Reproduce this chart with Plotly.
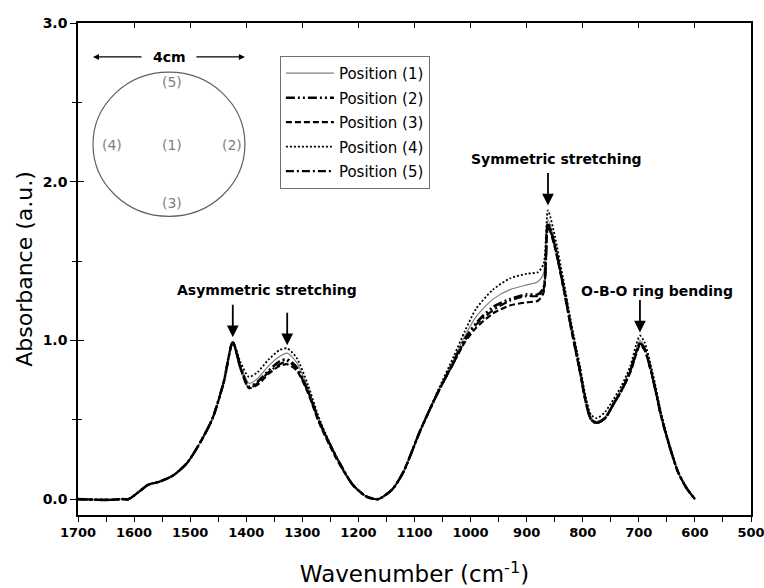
import plotly.graph_objects as go

wavenumber = [1700, 1650, 1620, 1610, 1590, 1575, 1555, 1530, 1505, 1480, 1460, 1440, 1424, 1410,
              1395, 1380, 1360, 1340, 1327, 1310, 1290, 1270, 1240, 1210, 1185, 1165, 1140, 1120,
              1090, 1060, 1030, 1010, 990, 960, 930, 900, 880, 870, 862, 850, 835, 820, 805, 795,
              785, 775, 760, 745, 730, 715, 705, 698, 690, 675, 660, 645, 630, 615, 600]

pos1 = [0.0, -0.005, 0.0, 0.0, 0.05, 0.09, 0.11, 0.15, 0.23, 0.37, 0.51, 0.74, 0.99, 0.84,
        0.73, 0.76, 0.84, 0.90, 0.92, 0.86, 0.70, 0.50, 0.27, 0.09, 0.015, 0.0, 0.06, 0.17,
        0.43, 0.66, 0.88, 1.03, 1.15, 1.26, 1.32, 1.35, 1.37, 1.42, 1.76, 1.62, 1.36, 1.08, 0.82, 0.63,
        0.51, 0.49, 0.52, 0.61, 0.70, 0.82, 0.94, 1.00, 0.96, 0.77, 0.53, 0.33, 0.17, 0.07, 0.0]
pos2 = [0.0, -0.005, 0.0, 0.0, 0.05, 0.09, 0.11, 0.15, 0.23, 0.37, 0.51, 0.74, 0.99, 0.83,
        0.71, 0.74, 0.81, 0.87, 0.88, 0.83, 0.68, 0.49, 0.27, 0.09, 0.015, 0.0, 0.06, 0.17,
        0.43, 0.66, 0.87, 1.01, 1.11, 1.21, 1.26, 1.29, 1.29, 1.33, 1.74, 1.60, 1.35, 1.07, 0.81, 0.62,
        0.50, 0.48, 0.51, 0.60, 0.69, 0.81, 0.92, 0.98, 0.95, 0.76, 0.52, 0.33, 0.17, 0.07, 0.0]
pos3 = [0.0, -0.005, 0.0, 0.0, 0.05, 0.09, 0.11, 0.15, 0.23, 0.37, 0.51, 0.74, 0.99, 0.82,
        0.70, 0.72, 0.79, 0.84, 0.85, 0.81, 0.67, 0.48, 0.26, 0.09, 0.015, 0.0, 0.06, 0.17,
        0.43, 0.66, 0.86, 0.99, 1.08, 1.17, 1.22, 1.24, 1.25, 1.30, 1.72, 1.59, 1.34, 1.06, 0.80, 0.62,
        0.50, 0.48, 0.51, 0.60, 0.69, 0.80, 0.91, 0.97, 0.94, 0.76, 0.52, 0.33, 0.17, 0.07, 0.0]
pos4 = [0.0, -0.005, 0.0, 0.0, 0.05, 0.09, 0.11, 0.15, 0.23, 0.37, 0.51, 0.74, 0.99, 0.86,
        0.77, 0.80, 0.88, 0.94, 0.95, 0.89, 0.72, 0.51, 0.27, 0.09, 0.015, 0.0, 0.06, 0.17,
        0.43, 0.67, 0.90, 1.06, 1.20, 1.32, 1.39, 1.42, 1.43, 1.48, 1.82, 1.66, 1.39, 1.10, 0.84, 0.65,
        0.53, 0.51, 0.55, 0.63, 0.72, 0.84, 0.97, 1.03, 0.99, 0.79, 0.54, 0.34, 0.17, 0.07, 0.0]
pos5 = [0.0, -0.005, 0.0, 0.0, 0.05, 0.09, 0.11, 0.15, 0.23, 0.37, 0.51, 0.74, 0.99, 0.82,
        0.70, 0.73, 0.80, 0.85, 0.87, 0.82, 0.68, 0.49, 0.27, 0.09, 0.015, 0.0, 0.06, 0.17,
        0.43, 0.66, 0.86, 1.00, 1.10, 1.19, 1.25, 1.28, 1.28, 1.32, 1.73, 1.60, 1.35, 1.07, 0.81, 0.62,
        0.50, 0.48, 0.51, 0.60, 0.69, 0.81, 0.92, 0.98, 0.95, 0.76, 0.52, 0.33, 0.17, 0.07, 0.0]

series_names = ["Position (1)", "Position (2)", "Position (3)", "Position (4)", "Position (5)"]
series_values = [pos1, pos2, pos3, pos4, pos5]
series_styles = [
    dict(color="#808080", width=1.2, dash="solid"),
    dict(color="black", width=2.6, dash="9px,3px,2px,3px,2px,3px"),
    dict(color="black", width=2.2, dash="6px,3px"),
    dict(color="black", width=1.8, dash="2px,2px"),
    dict(color="black", width=2.2, dash="8px,3px,2px,3px"),
]

peak_labels = ["Asymmetric stretching", "Symmetric stretching", "O-B-O ring bending"]
peak_label_x = [1363, 846, 668]
peak_label_y = [1.32, 2.14, 1.31]
arrow_x = [1424, 1327, 862, 698]
arrow_y = [1.02, 0.97, 1.85, 1.05]

circle_labels = ["(5)", "(4)", "(1)", "(2)", "(3)"]

fig = go.Figure()
for i, (name, vals, st) in enumerate(zip(series_names, series_values, series_styles)):
    fig.add_trace(go.Scatter(
        x=wavenumber, y=vals, mode="lines", name=name, legendgroup=f"g{i}",
        line=dict(color=st["color"], width=st["width"], dash=st["dash"], shape="spline", smoothing=0.7),
    ))

fig.update_layout(
    width=764, height=588,
    margin=dict(l=78, r=13, t=23, b=73),
    paper_bgcolor="white", plot_bgcolor="white",
    font=dict(family="DejaVu Sans", color="black"),
    showlegend=True,
    legend=dict(x=0.300, y=0.933, xanchor="left", yanchor="top",
                bordercolor="#707070", borderwidth=1, bgcolor="white",
                font=dict(family="DejaVu Sans", size=15, color="black"),
                itemwidth=48,
                tracegroupgap=2, traceorder="grouped"),
    xaxis=dict(range=[1700, 500], autorange=False, dtick=100, tick0=500, automargin=False,
               ticklabeloverflow="allow",
               ticks="outside", ticklen=5, tickwidth=1.2, tickcolor="black",
               minor=dict(dtick=50, ticks="outside", ticklen=5, tickwidth=1.2, tickcolor="black"),
               showline=True, linecolor="black", linewidth=1.5, mirror=True,
               showgrid=False, zeroline=False,
               tickfont=dict(family="DejaVu Sans", size=13, weight="bold"),
               title=dict(text="Wavenumber (cm<sup>-1</sup>)", font=dict(family="DejaVu Sans", size=23),
                          standoff=27)),
    yaxis=dict(range=[-0.1, 3.0], autorange=False, dtick=1.0, tick0=0, tickformat=".1f", automargin=False,
               ticks="outside", ticklen=6, tickwidth=1.2, tickcolor="black",
               minor=dict(dtick=0.5, ticks="outside", ticklen=4, tickwidth=1.2, tickcolor="black"),
               showline=True, linecolor="black", linewidth=1.5, mirror=True,
               showgrid=False, zeroline=False,
               tickfont=dict(family="DejaVu Sans", size=14, weight="bold"),
               title=dict(text="Absorbance (a.u.)", font=dict(family="DejaVu Sans", size=22),
                          standoff=4)),
    xaxis2=dict(overlaying="x", side="top", range=[1700, 500], autorange=False, dtick=100, tick0=500,
                ticks="inside", ticklen=5, tickwidth=1.2, tickcolor="black", automargin=False,
                showticklabels=False, showline=False, showgrid=False, zeroline=False),
    yaxis2=dict(overlaying="y", side="left", range=[-0.1, 3.0], autorange=False, dtick=1.0, tick0=0,
                ticks="inside", ticklen=6, tickwidth=1.2, tickcolor="black", automargin=False,
                minor=dict(dtick=0.5, ticks="inside", ticklen=4, tickwidth=1.2, tickcolor="black"),
                showticklabels=False, showline=False, showgrid=False, zeroline=False),
)

# invisible helper trace so overlay axes render
fig.add_trace(go.Scatter(x=[wavenumber[0]], y=[pos1[0]], xaxis="x2", yaxis="y2",
                         mode="markers", marker=dict(opacity=0), showlegend=False, hoverinfo="skip"))

# peak labels and arrows
for txt, x, y in zip(peak_labels, peak_label_x, peak_label_y):
    fig.add_annotation(x=x, y=y, text=txt, showarrow=False, xanchor="center", yanchor="middle",
                       font=dict(family="DejaVu Sans", size=14, weight="bold", color="black"))
for x, y in zip(arrow_x, arrow_y):
    fig.add_annotation(x=x, y=y, text="", showarrow=True, ax=0, ay=-34,
                       arrowhead=2, arrowsize=1.3, arrowwidth=1.8, arrowcolor="black")

# inset: sample disc with measurement positions (paper coords)
fig.add_shape(type="circle", xref="paper", yref="paper",
              x0=0.0223, x1=0.248, y0=0.607, y1=0.900,
              line=dict(color="#606060", width=1.2))
circle_lx = [0.1397, 0.0505, 0.1397, 0.2290, 0.1397]
circle_ly = [0.880, 0.752, 0.752, 0.752, 0.634]
for t, x, y in zip(circle_labels, circle_lx, circle_ly):
    fig.add_annotation(xref="paper", yref="paper", x=x, y=y, text=t, showarrow=False,
                       xanchor="center", yanchor="middle",
                       font=dict(family="DejaVu Sans", size=14, color="#808080"))
fig.add_annotation(xref="paper", yref="paper", x=0.1367, y=0.931, text="4cm", showarrow=False,
                   xanchor="center", yanchor="middle",
                   font=dict(family="DejaVu Sans", size=14, weight="bold", color="black"))
fig.add_annotation(xref="paper", yref="paper", x=0.0223, y=0.931, text="", showarrow=True,
                   ax=50, ay=0, arrowhead=2, arrowsize=1, arrowwidth=1.2, arrowcolor="black")
fig.add_annotation(xref="paper", yref="paper", x=0.248, y=0.931, text="", showarrow=True,
                   ax=-50, ay=0, arrowhead=2, arrowsize=1, arrowwidth=1.2, arrowcolor="black")

fig.write_html("out.html")
